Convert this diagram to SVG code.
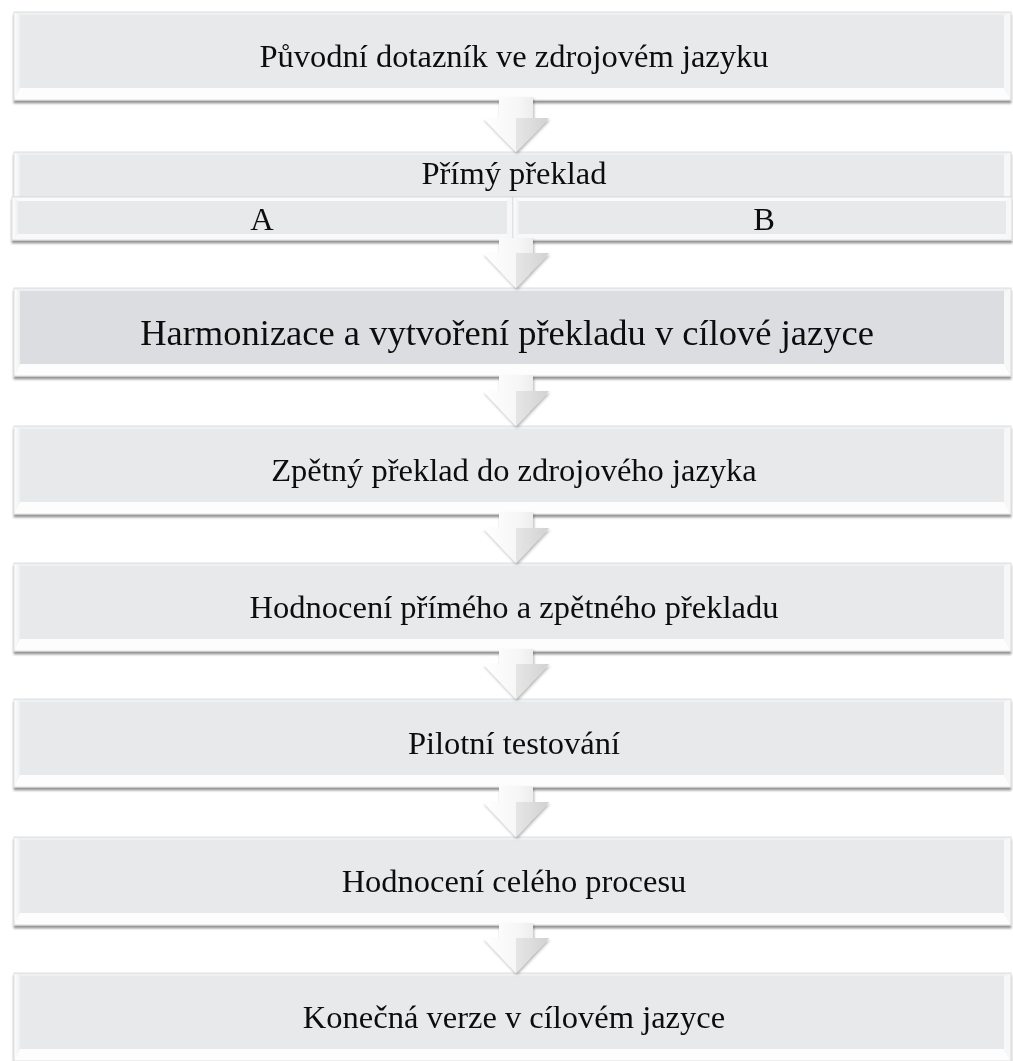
<svg xmlns="http://www.w3.org/2000/svg" xmlns:xlink="http://www.w3.org/1999/xlink" width="1013" height="1061" viewBox="0 0 1013 1061">
  <style>
    .t { font-family: "Liberation Serif", "Times New Roman", serif; font-size: 32.5px; fill: #0d0d0d; text-anchor: middle; }
    .t-big { font-size: 36.5px; }
    .face { fill: #e8e9eb; }
    .face-dark { fill: #dcdde0; }
    .edge { fill: none; stroke: #d6d7d9; stroke-width: 0.8; }
    .arrow { fill: url(#arrowFill); filter: url(#arrowShadow); }
    .facet { fill: #000; fill-opacity: 0.07; }
  </style>
  <defs>
    <filter id="boxShadow" x="-2%" y="-10%" width="104%" height="130%">
      <feGaussianBlur in="SourceAlpha" stdDeviation="1.3"/>
      <feOffset dy="2.5"/>
      <feComponentTransfer><feFuncA type="linear" slope="0.42"/></feComponentTransfer>
      <feMerge><feMergeNode/><feMergeNode in="SourceGraphic"/></feMerge>
    </filter>
    <filter id="arrowShadow" x="-30%" y="-30%" width="160%" height="160%">
      <feGaussianBlur in="SourceAlpha" stdDeviation="1.5"/>
      <feOffset dx="1" dy="2"/>
      <feComponentTransfer><feFuncA type="linear" slope="0.3"/></feComponentTransfer>
      <feMerge><feMergeNode/><feMergeNode in="SourceGraphic"/></feMerge>
    </filter>
    <linearGradient id="leftBevel" x1="0" y1="0" x2="1" y2="0">
      <stop offset="0" stop-color="#ffffff"/>
      <stop offset="1" stop-color="#eeeff0"/>
    </linearGradient>
    <linearGradient id="arrowFill" x1="0" y1="0" x2="1" y2="0">
      <stop offset="0" stop-color="#ffffff"/>
      <stop offset="0.55" stop-color="#f6f6f6"/>
      <stop offset="1" stop-color="#e2e2e3"/>
    </linearGradient>
    <!-- bevelled rectangle 997 x 88, face colour comes from the using element -->
    <g id="bevelBox">
      <rect width="997" height="88"/>
      <polygon points="0,0 997,0 990,3 6,3" fill="#eff0f1"/>
      <polygon points="0,0 6,3 6,76 0,88" fill="url(#leftBevel)"/>
      <polygon points="0,88 6,76 990,76 997,88" fill="#fdfdfd"/>
      <polygon points="997,0 990,3 990,76 997,88" fill="#f7f7f8"/>
      <rect class="edge" width="997" height="88"/>
    </g>
  </defs>

  <rect width="1013" height="1061" fill="#ffffff"/>

  <g id="node-1" filter="url(#boxShadow)">
    <use xlink:href="#bevelBox" x="14" y="12" class="face"/>
    <text class="t" x="514" y="67">Původní dotazník ve zdrojovém jazyku</text>
  </g>

  <g id="node-2" filter="url(#boxShadow)">
    <!-- header strip -->
    <rect class="face" x="14" y="152" width="997" height="45"/>
    <polygon points="14,152 1011,152 1004,155 20,155" fill="#eff0f1"/>
    <polygon points="14,152 20,155 20,197 14,197" fill="url(#leftBevel)"/>
    <polygon points="1011,152 1004,155 1004,197 1011,197" fill="#f7f7f8"/>
    <rect class="edge" x="14" y="152" width="997" height="45"/>
    <text class="t" x="514" y="184">Přímý překlad</text>
    <!-- sub-cells A and B -->
    <g id="node-2a">
      <rect class="face" x="12" y="197" width="501" height="43"/>
      <polygon points="12,197 513,197 507,201 18,201" fill="#fbfbfc"/>
      <polygon points="12,197 18,201 18,234 12,240" fill="url(#leftBevel)"/>
      <polygon points="12,240 18,234 507,234 513,240" fill="#f9f9fa"/>
      <polygon points="513,197 507,201 507,234 513,240" fill="#f7f7f8"/>
      <rect class="edge" x="12" y="197" width="501" height="43"/>
      <text class="t" x="262" y="230">A</text>
    </g>
    <g id="node-2b">
      <rect class="face" x="513" y="197" width="499" height="43"/>
      <polygon points="513,197 1012,197 1006,201 519,201" fill="#fbfbfc"/>
      <polygon points="513,197 519,201 519,234 513,240" fill="url(#leftBevel)"/>
      <polygon points="513,240 519,234 1006,234 1012,240" fill="#f9f9fa"/>
      <polygon points="1012,197 1006,201 1006,234 1012,240" fill="#f7f7f8"/>
      <rect class="edge" x="513" y="197" width="499" height="43"/>
      <text class="t" x="764" y="230">B</text>
    </g>
  </g>

  <g id="node-3" filter="url(#boxShadow)">
    <use xlink:href="#bevelBox" x="14" y="288" class="face-dark"/>
    <text class="t t-big" x="507" y="345">Harmonizace a vytvoření překladu v cílové jazyce</text>
  </g>

  <g id="node-4" filter="url(#boxShadow)">
    <use xlink:href="#bevelBox" x="14" y="426" class="face"/>
    <text class="t" x="514" y="481">Zpětný překlad do zdrojového jazyka</text>
  </g>

  <g id="node-5" filter="url(#boxShadow)">
    <use xlink:href="#bevelBox" x="14" y="563" class="face"/>
    <text class="t" x="514" y="618">Hodnocení přímého a zpětného překladu</text>
  </g>

  <g id="node-6" filter="url(#boxShadow)">
    <use xlink:href="#bevelBox" x="14" y="699" class="face"/>
    <text class="t" x="514" y="754">Pilotní testování</text>
  </g>

  <g id="node-7" filter="url(#boxShadow)">
    <use xlink:href="#bevelBox" x="14" y="837" class="face"/>
    <text class="t" x="514" y="892">Hodnocení celého procesu</text>
  </g>

  <g id="node-8" filter="url(#boxShadow)">
    <use xlink:href="#bevelBox" x="14" y="973" class="face"/>
    <text class="t" x="514" y="1028">Konečná verze v cílovém jazyce</text>
  </g>

  <!-- block arrows between the steps -->
  <g id="connectors">
    <g><path class="arrow" d="M499,97 H533 V118 H549 L516,152 L483,118 H499 Z"/><path class="facet" d="M516,118 H549 L516,152 Z"/></g>
    <g><path class="arrow" d="M499,238 H533 V253 H549 L516,288 L483,253 H499 Z"/><path class="facet" d="M516,253 H549 L516,288 Z"/></g>
    <g><path class="arrow" d="M499,375 H533 V391 H549 L516,426 L483,391 H499 Z"/><path class="facet" d="M516,391 H549 L516,426 Z"/></g>
    <g><path class="arrow" d="M499,512 H533 V528 H549 L516,563 L483,528 H499 Z"/><path class="facet" d="M516,528 H549 L516,563 Z"/></g>
    <g><path class="arrow" d="M499,649 H533 V664 H549 L516,699 L483,664 H499 Z"/><path class="facet" d="M516,664 H549 L516,699 Z"/></g>
    <g><path class="arrow" d="M499,786 H533 V802 H549 L516,837 L483,802 H499 Z"/><path class="facet" d="M516,802 H549 L516,837 Z"/></g>
    <g><path class="arrow" d="M499,923 H533 V938 H549 L516,973 L483,938 H499 Z"/><path class="facet" d="M516,938 H549 L516,973 Z"/></g>
  </g>
</svg>
